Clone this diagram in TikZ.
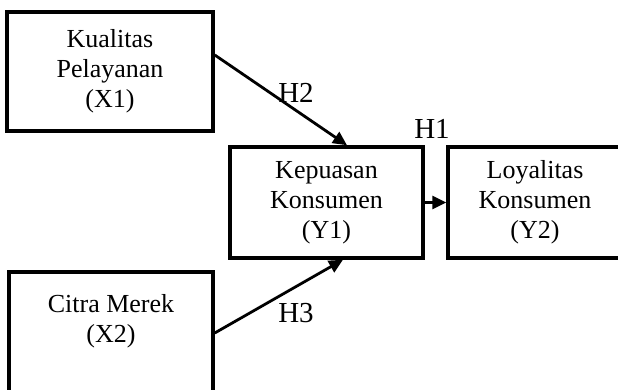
\documentclass[tikz,border=0pt]{standalone}
\usepackage{fontspec}
\setmainfont{Liberation Serif}
\usetikzlibrary{arrows.meta}
\begin{document}
\begin{tikzpicture}[x=1pt,y=1pt,
  box/.style={draw=black, line width=3.5pt, rectangle, inner sep=0pt, align=center,
    font=\fontsize{26}{30}\selectfont},
  conn/.style={line width=2.8pt, -{Triangle[length=14pt,width=13pt]}},
  hlab/.style={font=\fontsize{29}{32}\selectfont, inner sep=0pt}]
\useasboundingbox (0,0) rectangle (618,390);
\clip (0,0) rectangle (618,390);
\node[box, minimum width=206pt, minimum height=119pt] (x1) at (110,318.5) {Kualitas\\Pelayanan\\(X1)};
\node[box, minimum width=204pt, minimum height=122pt] (x2) at (111,57) {Citra Merek\\(X2)\\\mbox{}};
\node[box, minimum width=193pt, minimum height=111pt] (y1) at (326.5,187.5) {Kepuasan\\Konsumen\\(Y1)};
\node[box, minimum width=174pt, minimum height=111pt] (y2) at (535,187.5) {Loyalitas\\Konsumen\\(Y2)};
\draw[conn] ([yshift=16.5pt]x1.east) -- ([xshift=20.5pt]y1.north);
\draw[conn] (x2.east) -- ([xshift=16.5pt]y1.south);
\draw[conn] (y1.east) -- (y2.west);
\node[hlab] (h2) at (296,297) {H2};
\node[hlab] (h3) at (296,77) {H3};
\node[hlab] (h1) at (432,261) {H1};
\end{tikzpicture}
\end{document}
